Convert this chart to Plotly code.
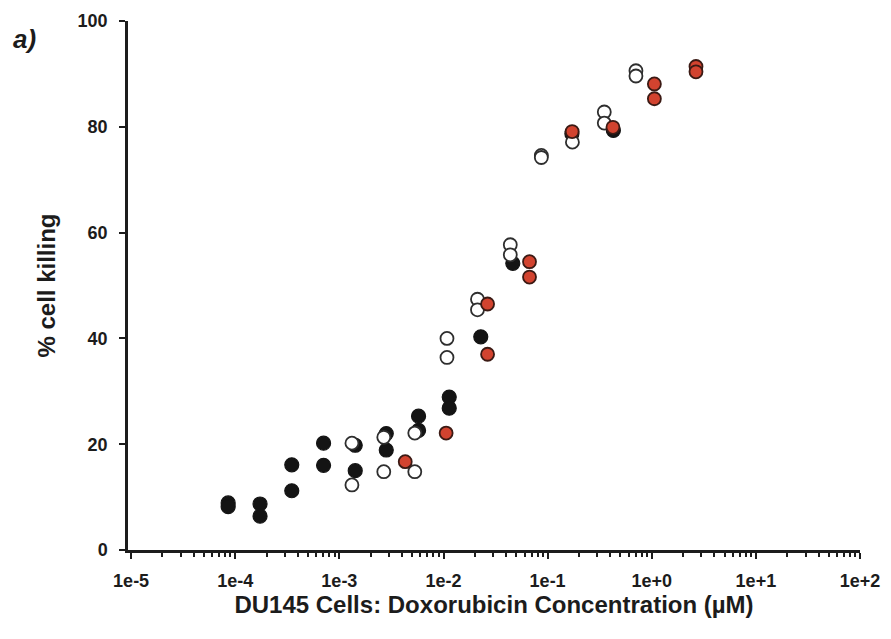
import plotly.graph_objects as go

# DU145 cells: % cell killing vs doxorubicin concentration (µM), three replicate series
black_conc = [8.55e-5, 8.55e-5, 1.73e-4, 1.73e-4, 3.49e-4, 3.49e-4, 7.05e-4, 7.05e-4,
              1.42e-3, 1.42e-3, 2.82e-3, 2.82e-3, 5.76e-3, 5.76e-3, 1.135e-2, 1.135e-2,
              2.28e-2, 4.63e-2, 0.171, 0.428]
black_kill = [8.9, 8.2, 8.7, 6.4, 16.1, 11.2, 20.2, 16.0,
              19.8, 15.0, 22.0, 18.9, 25.3, 22.6, 28.9, 26.8,
              40.3, 54.2, 78.7, 79.3]

open_conc = [1.32e-3, 1.32e-3, 2.67e-3, 2.67e-3, 5.3e-3, 5.3e-3, 1.08e-2, 1.08e-2,
             2.12e-2, 2.12e-2, 4.38e-2, 4.38e-2, 8.7e-2, 8.7e-2, 0.173,
             0.35, 0.35, 0.705, 0.705]
open_kill = [20.2, 12.3, 21.3, 14.8, 22.1, 14.8, 40.0, 36.4,
             47.4, 45.4, 57.7, 55.8, 74.6, 74.2, 77.1,
             82.8, 80.7, 90.6, 89.6]

red_conc = [4.29e-3, 1.06e-2, 2.65e-2, 2.65e-2, 6.7e-2, 6.7e-2, 0.172, 0.424,
            1.06, 1.06, 2.66, 2.66]
red_kill = [16.7, 22.1, 46.5, 37.0, 54.5, 51.6, 79.1, 79.9,
            88.1, 85.3, 91.4, 90.4]

x_tick_vals = [1e-5, 1e-4, 1e-3, 1e-2, 1e-1, 1e0, 1e1, 1e2]
x_tick_text = ["1e-5", "1e-4", "1e-3", "1e-2", "1e-1", "1e+0", "1e+1", "1e+2"]
y_tick_vals = [0, 20, 40, 60, 80, 100]

minor_vals = [k * 10.0 ** d for d in range(-5, 2) for k in range(2, 10)]

FONT = "Liberation Sans, Arial, sans-serif"
INK = "#1c1c1c"

fig = go.Figure()

fig.add_trace(go.Scatter(
    x=black_conc, y=black_kill, mode="markers",
    marker=dict(size=14, color="#141414", line=dict(color="#141414", width=1.2)),
    showlegend=False, cliponaxis=False,
))
fig.add_trace(go.Scatter(
    x=open_conc, y=open_kill, mode="markers",
    marker=dict(size=13, color="white", line=dict(color="#2e2e2e", width=1.8)),
    showlegend=False, cliponaxis=False,
))
fig.add_trace(go.Scatter(
    x=red_conc, y=red_kill, mode="markers",
    marker=dict(size=13, color="#d2432f", line=dict(color="#3b1a14", width=1.8)),
    showlegend=False, cliponaxis=False,
))

fig.update_xaxes(
    type="log", range=[-5.03, 2.0],
    tickvals=x_tick_vals, ticktext=x_tick_text,
    ticks="outside", ticklen=6, tickwidth=2, tickcolor=INK,
    minor=dict(tickvals=minor_vals, ticks="outside", ticklen=4, tickwidth=1.5, tickcolor=INK),
    showline=True, linecolor=INK, linewidth=2.5,
    showgrid=False, zeroline=False,
    tickfont=dict(family=FONT, size=18, color=INK, weight="bold"),
    ticklabelstandoff=7,
    title=dict(text="DU145 Cells: Doxorubicin Concentration (µM)",
               font=dict(family=FONT, size=24, color=INK, weight="bold"), standoff=3),
)
fig.update_yaxes(
    range=[0, 100], tickvals=y_tick_vals,
    ticks="outside", ticklen=6, tickwidth=2, tickcolor=INK,
    showline=True, linecolor=INK, linewidth=2.5,
    showgrid=False, zeroline=False,
    tickfont=dict(family=FONT, size=18, color=INK, weight="bold"),
    ticklabelstandoff=8,
    title=dict(text="% cell killing",
               font=dict(family=FONT, size=24, color=INK, weight="bold"), standoff=16),
)

fig.add_annotation(
    text="<b><i>a)</i></b>", xref="paper", yref="paper",
    x=-0.141, y=0.966, xanchor="center", yanchor="middle",
    showarrow=False, font=dict(family=FONT, size=26, color=INK),
)

fig.update_layout(
    width=891, height=639,
    margin=dict(l=128, r=31, t=21, b=89),
    paper_bgcolor="white", plot_bgcolor="white",
)

fig.write_html("out.html")
